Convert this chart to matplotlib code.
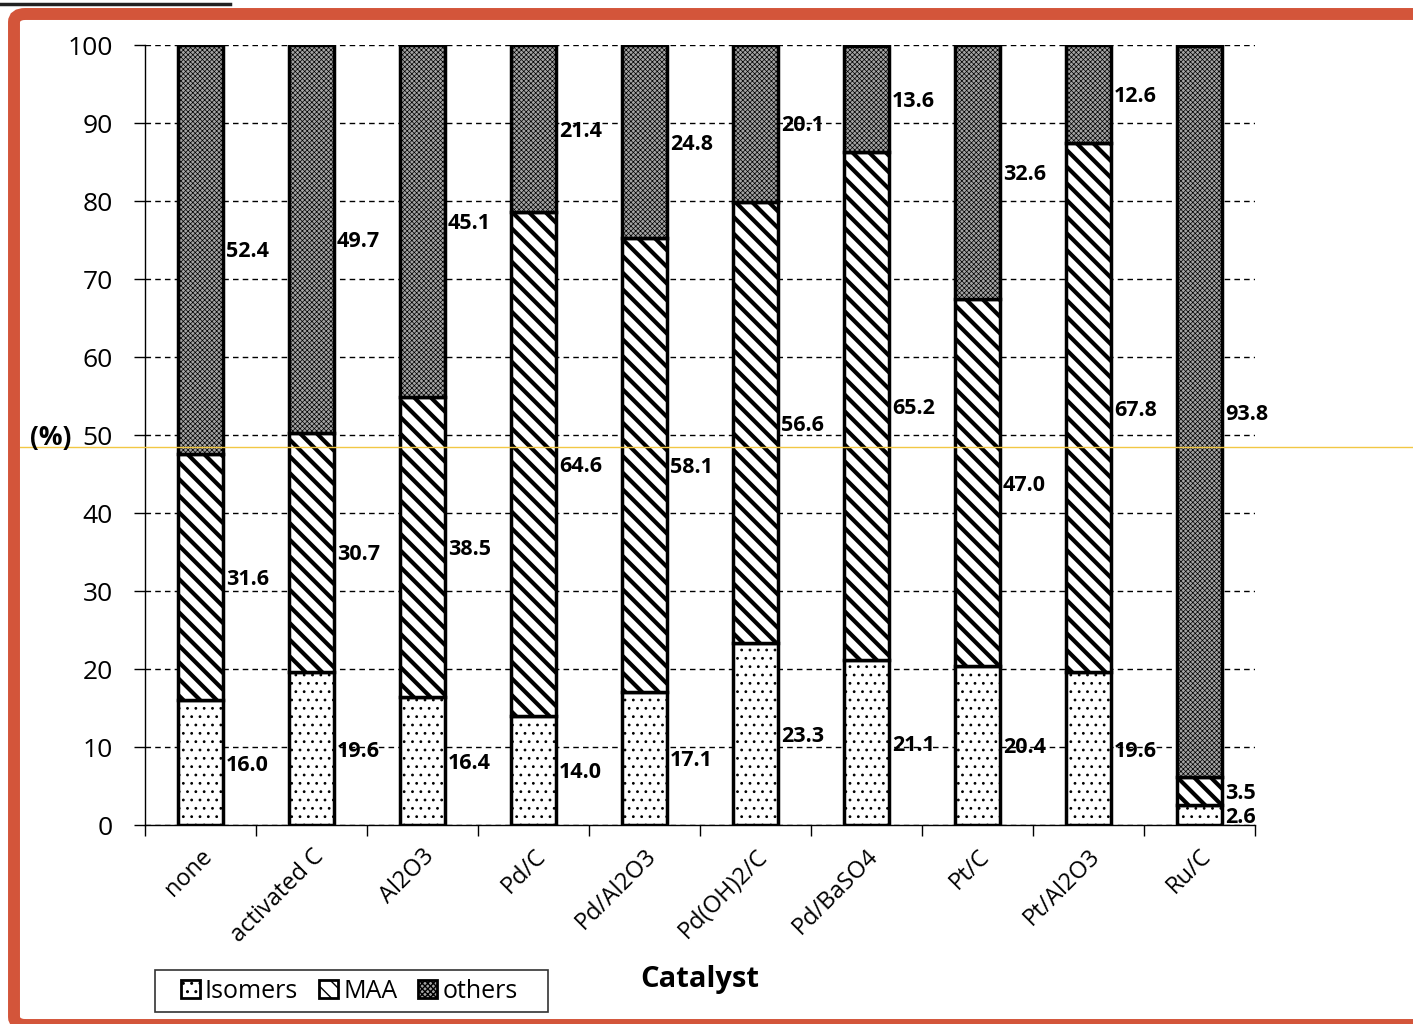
import matplotlib
matplotlib.use("Agg")
import matplotlib.pyplot as plt
import numpy as np
from matplotlib.patches import Patch, FancyBboxPatch, Rectangle
from matplotlib.lines import Line2D

plt.rcParams['font.family'] = ['Open Sans', 'DejaVu Sans']

catalysts = ['none', 'activated C', 'Al2O3', 'Pd/C', 'Pd/Al2O3', 'Pd(OH)2/C',
             'Pd/BaSO4', 'Pt/C', 'Pt/Al2O3', 'Ru/C']
isomers = [16.0, 19.6, 16.4, 14.0, 17.1, 23.3, 21.1, 20.4, 19.6, 2.6]
maa = [31.6, 30.7, 38.5, 64.6, 58.1, 56.6, 65.2, 47.0, 67.8, 3.5]
others = [52.4, 49.7, 45.1, 21.4, 24.8, 20.1, 13.6, 32.6, 12.6, 93.8]
series_names = ['Isomers', 'MAA', 'others']

fig = plt.figure(figsize=(14.13, 10.24), dpi=100)
ax = fig.add_axes([0.1026, 0.1943, 0.7855, 0.7617])

x = np.arange(len(catalysts))
w = 0.4
iso = np.array(isomers)
ma = np.array(maa)
oth = np.array(others)

dark = '#a4a4a4'
with plt.rc_context({'hatch.linewidth': 0.8}):
    ax.bar(x, iso, w, facecolor='white', edgecolor='black', linewidth=2.5,
           hatch='..', zorder=3)
with plt.rc_context({'hatch.linewidth': 3.0}):
    ax.bar(x, ma, w, bottom=iso, facecolor='white', edgecolor='black',
           linewidth=2.5, hatch='\\\\', zorder=3)
with plt.rc_context({'hatch.linewidth': 0.5}):
    ax.bar(x, oth, w, bottom=iso + ma, facecolor=dark, edgecolor='black',
           linewidth=2.5, hatch='xxxxxxx', zorder=3)

# value labels at the middle of each segment
for i in range(len(catalysts)):
    lx = x[i] + w / 2 + 0.03
    mids = [iso[i] / 2, iso[i] + ma[i] / 2, iso[i] + ma[i] + oth[i] / 2]
    vals = [iso[i], ma[i], oth[i]]
    for m, v in zip(mids, vals):
        ax.text(lx, m, f'{v:.1f}', fontsize=15.5, fontweight='bold',
                va='center_baseline', ha='left', zorder=5)

ax.set_xlim(-0.5, len(catalysts) - 0.5)
ax.set_ylim(0, 100)
ax.set_yticks(np.arange(0, 101, 10))
ax.tick_params(axis='y', labelsize=19, length=8, width=1, direction='out', pad=15)
ax.yaxis.grid(True, linestyle=(0, (4, 3)), color='black', linewidth=1)
ax.set_axisbelow(True)

ax.set_xticks(x)
ax.set_xticklabels(catalysts, rotation=45, ha='right', rotation_mode='anchor',
                   fontsize=17)
ax.tick_params(axis='x', length=0, pad=14)
ax.set_xticks(np.arange(-0.5, len(catalysts), 1), minor=True)
ax.tick_params(axis='x', which='minor', length=8, width=1, direction='out')

for s in ['top', 'right']:
    ax.spines[s].set_visible(False)
ax.spines['left'].set_linewidth(1)
ax.spines['bottom'].set_linewidth(1)

fig.text(0.036, 0.573, '(%)', fontsize=19, fontweight='bold', ha='center', va='center')
fig.text(0.495, 0.043, 'Catalyst', fontsize=21, fontweight='bold', ha='center', va='center')

# legend: box drawn separately so the entries can sit inset from its left edge
fig.patches.append(Rectangle((155 / 1413, 12 / 1024), 393 / 1413, 42 / 1024,
                             transform=fig.transFigure, fill=False,
                             edgecolor='#333333', linewidth=1.2))
with plt.rc_context({'hatch.linewidth': 1.5}):
    handles = [Patch(facecolor='white', edgecolor='black', hatch='..', linewidth=2),
               Patch(facecolor='white', edgecolor='black', hatch='\\\\', linewidth=2),
               Patch(facecolor=dark, edgecolor='black', hatch='xxxxxx', linewidth=2)]
leg = fig.legend(handles, series_names, loc='center left',
                 bbox_to_anchor=(181 / 1413, 1 - 991 / 1024), borderaxespad=0,
                 ncol=3, fontsize=18, frameon=False,
                 handlelength=0.75, handleheight=0.75, handletextpad=0.2,
                 columnspacing=0.85, borderpad=0)

# frame and stray lines from the page
fig.patches.append(FancyBboxPatch((14 / 1413, -1 / 1024), 1.2, 1 - 13 / 1024,
                                  boxstyle='round,pad=0,rounding_size=0.008',
                                  transform=fig.transFigure, fill=False,
                                  edgecolor='#d3553a', linewidth=8.6, zorder=10))
fig.lines.append(Line2D([0, 230 / 1413], [1 - 4 / 1024] * 2, transform=fig.transFigure,
                        color='#222222', linewidth=2.5))
fig.lines.append(Line2D([20 / 1413, 1], [1 - 447 / 1024] * 2, transform=fig.transFigure,
                        color='#f2c744', linewidth=1))

fig.savefig('out.png', dpi=100)
